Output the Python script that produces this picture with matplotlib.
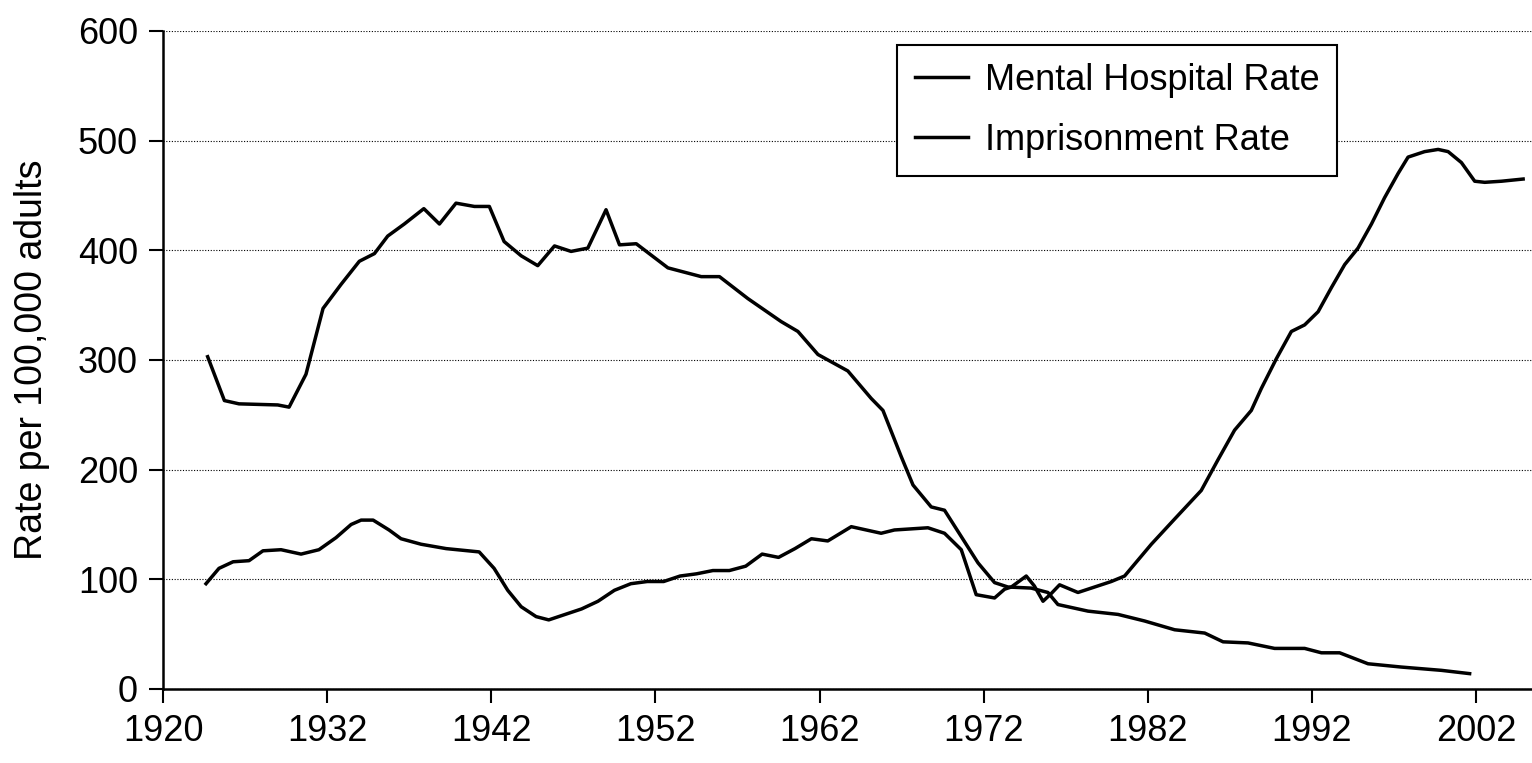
import matplotlib.pyplot as plt

# Scanned chart: both series are drawn in black
# x positions follow the reference axis (first tick sits at the spine, labelled 1920)
mh_years = [1924.72, 1925.74, 1926.63, 1928.99, 1929.68, 1930.71, 1931.75, 1932.85,
            1933.96, 1934.88, 1935.69, 1936.70, 1937.89, 1938.84, 1939.85, 1940.97,
            1941.88, 1942.78, 1943.82, 1944.83, 1945.85, 1946.86, 1947.88, 1948.99,
            1949.81, 1950.83, 1952.76, 1954.79, 1955.90, 1957.63, 1959.66, 1960.68,
            1961.90, 1963.72, 1965.14, 1965.86, 1966.97, 1967.69, 1968.80, 1969.61,
            1970.63, 1971.65, 1972.66, 1973.47, 1974.89, 1975.91, 1976.52, 1978.35,
            1980.18, 1981.80, 1983.63, 1985.46, 1986.58, 1988.10, 1989.72, 1991.55,
            1992.57, 1993.68, 1995.41, 1997.44, 1999.88, 2001.60]
mh_rate = [303, 263, 260, 259, 257, 287, 347, 369,
           390, 397, 413, 424, 438, 424, 443, 440,
           440, 408, 395, 386, 404, 399, 402, 437,
           405, 406, 384, 376, 376, 356, 335, 326,
           305, 290, 265, 254, 212, 186, 166, 163,
           139, 115, 97, 93, 92, 88, 77, 71,
           68, 62, 54, 51, 43, 42, 37, 37,
           33, 33, 23, 20, 17, 14]

prison_years = [1924.62, 1925.41, 1926.27, 1927.24, 1928.09, 1929.19, 1930.41, 1931.50,
                1932.54, 1933.46, 1934.07, 1934.80, 1935.77, 1936.50, 1937.72, 1939.25,
                1941.26, 1942.17, 1943.00, 1943.82, 1944.73, 1945.50, 1946.50, 1947.50,
                1948.50, 1949.50, 1950.50, 1951.50, 1952.50, 1953.50, 1954.50, 1955.50,
                1956.50, 1957.50, 1958.50, 1959.50, 1960.50, 1961.50, 1962.50, 1963.93,
                1965.75, 1966.56, 1968.60, 1969.61, 1970.63, 1971.54, 1972.66, 1973.27,
                1973.68, 1974.59, 1975.08, 1975.61, 1976.11, 1976.62, 1977.74, 1979.77,
                1980.58, 1982.21, 1983.63, 1985.25, 1986.27, 1987.28, 1988.30, 1988.91,
                1989.82, 1990.74, 1991.55, 1992.37, 1993.18, 1993.99, 1994.80, 1995.62,
                1996.42, 1997.24, 1997.85, 1998.86, 1999.68, 2000.29, 2001.10, 2001.91,
                2002.52, 2003.54, 2004.86]
prison_rate = [96, 110, 116, 117, 126, 127, 123, 127,
               138, 150, 154, 154, 145, 137, 132, 128,
               125, 110, 90, 75, 66, 63, 68, 73,
               80, 90, 96, 98, 98, 103, 105, 108,
               108, 112, 123, 120, 128, 137, 135, 148,
               142, 145, 147, 142, 127, 86, 83, 91,
               93, 103, 94, 80, 87, 95, 88, 98,
               103, 132, 155, 181, 209, 236, 254, 274,
               301, 326, 332, 344, 366, 387, 402, 424,
               448, 470, 485, 490, 492, 490, 480, 463,
               462, 463, 465]

tick_pos = [1922, 1932, 1942, 1952, 1962, 1972, 1982, 1992, 2002]
tick_labels = ["1920", "1932", "1942", "1952", "1962", "1972", "1982", "1992", "2002"]
y_ticks = [0, 100, 200, 300, 400, 500, 600]

plt.rcParams["font.family"] = ["Liberation Sans", "DejaVu Sans"]

fig = plt.figure(figsize=(15.32, 7.63), dpi=100)
ax = fig.add_axes([0.1064, 0.097, 0.8936, 0.8624])

ax.plot(mh_years, mh_rate, color="black", linewidth=2.5, label="Mental Hospital Rate")
ax.plot(prison_years, prison_rate, color="black", linewidth=2.5, label="Imprisonment Rate")

ax.set_xlim(1922, 2005.4)
ax.set_ylim(0, 600)
ax.set_xticks(tick_pos)
ax.set_xticklabels(tick_labels)
ax.set_yticks(y_ticks)

ax.grid(axis="y", color="black", linestyle=(0, (1, 1.5)), linewidth=0.8)
ax.set_axisbelow(True)

for side in ["top", "right"]:
    ax.spines[side].set_visible(False)
for side in ["left", "bottom"]:
    ax.spines[side].set_linewidth(1.8)
    ax.spines[side].set_color("black")

ax.tick_params(axis="both", direction="out", length=10, width=1.5, labelsize=26, pad=8,
               colors="black")
ax.set_ylabel("Rate per 100,000 adults", fontsize=27, labelpad=20)

leg = ax.legend(loc="upper left", bbox_to_anchor=(897 / 1532, 1 - 45 / 763),
                bbox_transform=fig.transFigure, fontsize=26, frameon=True, fancybox=False,
                edgecolor="black", handlelength=1.47, handletextpad=0.46, labelspacing=0.68,
                borderpad=0.5, borderaxespad=0)
leg.get_frame().set_linewidth(1.5)
leg.get_frame().set_alpha(1)

fig.savefig("out.png", dpi=100)
